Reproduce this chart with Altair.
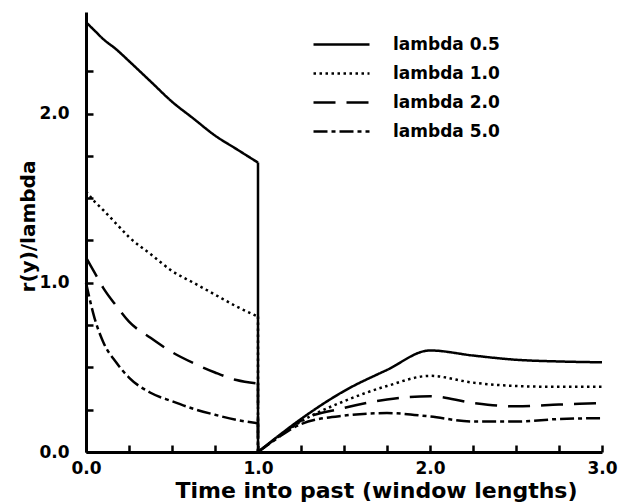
import altair as alt
import pandas as pd

FONT = "DejaVu Sans"

series = ["lambda 0.5", "lambda 1.0", "lambda 2.0", "lambda 5.0"]
dashes = [[1, 0], [2.5, 3.5], [22, 11], [14, 4, 4, 4]]

# x positions (window lengths): before and after the drop at x = 1
x_left = [0.0, 0.05, 0.1, 0.175, 0.25, 0.375, 0.5, 0.625, 0.75, 0.875, 1.0]
x_right = [1.0, 1.125, 1.25, 1.5, 1.75, 2.0, 2.25, 2.5, 2.75, 3.0]

y_05_left = [2.54, 2.49, 2.44, 2.38, 2.31, 2.19, 2.07, 1.97, 1.87, 1.79, 1.71]
y_05_right = [0.0, 0.10, 0.195, 0.36, 0.485, 0.60, 0.57, 0.545, 0.535, 0.53]

y_10_left = [1.54, 1.48, 1.43, 1.35, 1.27, 1.17, 1.07, 1.00, 0.93, 0.86, 0.80]
y_10_right = [0.0, 0.095, 0.18, 0.30, 0.39, 0.45, 0.41, 0.39, 0.385, 0.385]

y_20_left = [1.15, 1.06, 0.97, 0.865, 0.77, 0.675, 0.59, 0.525, 0.47, 0.425, 0.405]
y_20_right = [0.0, 0.095, 0.185, 0.26, 0.31, 0.33, 0.29, 0.27, 0.28, 0.29]

y_50_left = [1.0, 0.79, 0.65, 0.53, 0.44, 0.35, 0.30, 0.255, 0.22, 0.19, 0.17]
y_50_right = [0.0, 0.09, 0.165, 0.215, 0.23, 0.21, 0.18, 0.18, 0.195, 0.20]

x_tick_values = [0, 0.25, 0.5, 0.75, 1, 1.25, 1.5, 1.75, 2, 2.25, 2.5, 2.75, 3]
y_tick_values = [0, 0.25, 0.5, 0.75, 1, 1.25, 1.5, 1.75, 2, 2.25]

left_vals = {"lambda 0.5": y_05_left, "lambda 1.0": y_10_left,
             "lambda 2.0": y_20_left, "lambda 5.0": y_50_left}
right_vals = {"lambda 0.5": y_05_right, "lambda 1.0": y_10_right,
              "lambda 2.0": y_20_right, "lambda 5.0": y_50_right}

rows = []
drops = []
for s in series:
    for xv, yv in zip(x_left, left_vals[s]):
        rows.append({"series": s, "part": "a", "x": xv, "y": yv})
    for xv, yv in zip(x_right, right_vals[s]):
        rows.append({"series": s, "part": "b", "x": xv, "y": yv})
    drops.append({"series": s, "x": x_left[-1], "y": left_vals[s][-1], "y2": right_vals[s][0]})
df = pd.DataFrame(rows)
df_drop = pd.DataFrame(drops)

W, H = 516, 440
xscale = alt.Scale(domain=[0, 3], nice=False, zero=False)
yscale = alt.Scale(domain=[0, 2.6], nice=False, zero=False)

int_label = "datum.value % 1 == 0 ? format(datum.value, '.1f') : ''"

x_axis = alt.Axis(
    values=x_tick_values, labelExpr=int_label, grid=False, labelFlush=False,
    ticks=True, tickSize={"expr": "-7"}, tickWidth=2.5, tickColor="black",
    domainColor="black", domainWidth=3,
    labelFont=FONT, labelFontSize=17, labelFontWeight="bold", labelColor="black",
    labelPadding=15,
    title="Time into past (window lengths)",
    titleFont=FONT, titleFontSize=22, titleFontWeight="bold", titleColor="black",
    titleX=290, titleY=45, titleAlign="center", titleBaseline="alphabetic",
)
y_axis = alt.Axis(
    values=y_tick_values, labelExpr=int_label, grid=False, labelFlush=False,
    ticks=True, tickSize={"expr": "-7"}, tickWidth=2.5, tickColor="black",
    domainColor="black", domainWidth=3,
    labelFont=FONT, labelFontSize=17, labelFontWeight="bold", labelColor="black",
    labelPadding=24,
    title="r(y)/lambda",
    titleFont=FONT, titleFontSize=20, titleFontWeight="bold", titleColor="black",
    titleAngle=270, titleX=-58, titleY=214, titleAlign="center", titleBaseline="middle",
)
dash_scale = alt.Scale(domain=series, range=dashes)
dash_legend = alt.Legend(
    title=None, orient="none", legendX=240, legendY=17,
    symbolType="M-2,0L2,0", symbolSize=784, symbolStrokeWidth=2.5,
    symbolStrokeColor="black",
    labelFont=FONT, labelFontSize=17, labelFontWeight="bold", labelColor="black",
    labelOffset=36, rowPadding=5,
)

lines = alt.Chart(df).mark_line(
    color="black", strokeWidth=2.5, strokeCap="butt", strokeJoin="round",
    interpolate="monotone",
).encode(
    x=alt.X("x:Q", scale=xscale, axis=x_axis),
    y=alt.Y("y:Q", scale=yscale, axis=y_axis),
    strokeDash=alt.StrokeDash("series:N", scale=dash_scale, legend=dash_legend),
    detail="part:N",
)

drop = alt.Chart(df_drop).mark_rule(color="black", strokeWidth=2.5, strokeCap="butt").encode(
    x=alt.X("x:Q", scale=xscale, axis=x_axis),
    y=alt.Y("y:Q", scale=yscale, axis=y_axis),
    y2="y2:Q",
    strokeDash=alt.StrokeDash("series:N", scale=dash_scale, legend=dash_legend),
)

chart = alt.layer(drop, lines).properties(
    width=W, height=H,
    autosize=alt.AutoSizeParams(type="none"),
    padding={"left": 78, "top": 4, "right": 18, "bottom": 52},
    background="white",
).configure_view(stroke=None)

chart.save("out.html", embed_options={"renderer": "svg", "actions": False})
